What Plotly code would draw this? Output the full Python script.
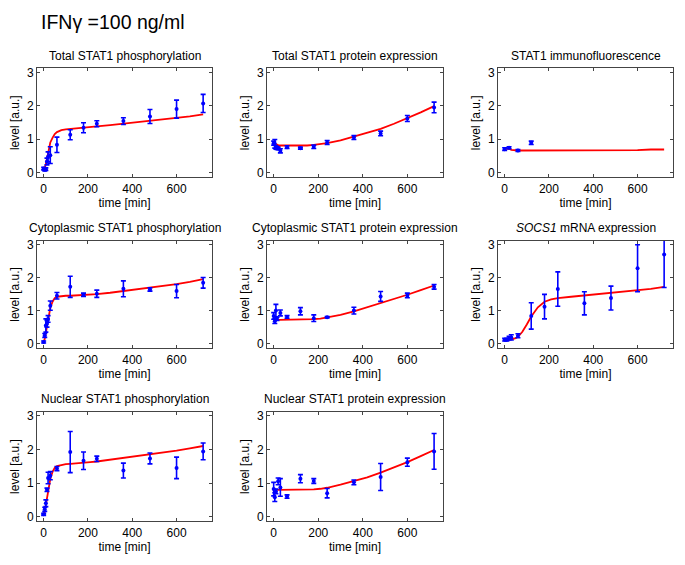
import plotly.graph_objects as go

# ---------------- data ----------------
model_t = [0, 5, 10, 15, 20, 25, 30, 40, 50, 60, 80, 100, 120, 150, 180, 210, 240,
           300, 360, 420, 480, 540, 600, 660, 720]

# Panel 1: Total STAT1 phosphorylation
p1_t = [0, 5, 10, 15, 20, 30, 60, 120, 180, 240, 360, 480, 600, 720]
p1_y = [0.12, 0.08, 0.1, 0.33, 0.47, 0.52, 0.83, 1.13, 1.34, 1.46, 1.54, 1.68, 1.9, 2.07]
p1_e = [0.04, 0.03, 0.04, 0.1, 0.15, 0.25, 0.23, 0.15, 0.15, 0.09, 0.1, 0.21, 0.27, 0.27]
p1_m = [0.12, 0.15, 0.25, 0.42, 0.6, 0.78, 0.9, 1.04, 1.15, 1.21, 1.27, 1.29, 1.3, 1.32,
        1.34, 1.36, 1.38, 1.42, 1.46, 1.5, 1.54, 1.58, 1.63, 1.68, 1.74]

# Panel 2: Total STAT1 protein expression
p2_t = [0, 5, 10, 15, 20, 30, 60, 120, 180, 240, 360, 480, 600, 720]
p2_y = [0.88, 0.86, 0.75, 0.73, 0.72, 0.65, 0.76, 0.73, 0.77, 0.9, 1.05, 1.17, 1.62, 1.95]
p2_e = [0.06, 0.13, 0.05, 0.04, 0.04, 0.06, 0.04, 0.03, 0.05, 0.06, 0.06, 0.07, 0.09, 0.16]
p2_m = [0.88, 0.86, 0.84, 0.83, 0.82, 0.81, 0.81, 0.8, 0.8, 0.8, 0.8, 0.8, 0.8, 0.81,
        0.83, 0.85, 0.88, 0.96, 1.07, 1.18, 1.31, 1.46, 1.62, 1.8, 1.99]

# Panel 3: STAT1 immunofluorescence
p3_t = [0, 20, 60, 120]
p3_y = [0.7, 0.74, 0.66, 0.89]
p3_e = [0.04, 0.03, 0.03, 0.05]
p3_m = [0.72, 0.72, 0.72, 0.72, 0.72, 0.7, 0.68, 0.67, 0.67, 0.66, 0.66, 0.66, 0.66, 0.66,
        0.66, 0.67, 0.67, 0.67, 0.67, 0.67, 0.67, 0.67, 0.67, 0.69, 0.69]

# Panel 4: Cytoplasmic STAT1 phosphorylation
p4_t = [0, 5, 10, 15, 20, 30, 60, 120, 180, 240, 360, 480, 600, 720]
p4_y = [0.05, 0.25, 0.55, 0.6, 0.75, 1.15, 1.45, 1.72, 1.48, 1.51, 1.66, 1.64, 1.59, 1.84]
p4_e = [0.03, 0.06, 0.2, 0.1, 0.1, 0.14, 0.1, 0.32, 0.05, 0.11, 0.24, 0.05, 0.2, 0.16]
p4_m = [0.05, 0.15, 0.33, 0.55, 0.75, 0.93, 1.08, 1.27, 1.38, 1.42, 1.44, 1.45, 1.45, 1.46,
        1.47, 1.48, 1.5, 1.54, 1.59, 1.64, 1.69, 1.74, 1.8, 1.87, 1.95]

# Panel 5: Cytoplasmic STAT1 protein expression
p5_t = [0, 5, 10, 15, 30, 60, 120, 180, 240, 360, 480, 600, 720]
p5_y = [0.84, 0.68, 1.0, 0.75, 0.93, 0.81, 0.98, 0.77, 0.8, 1.0, 1.43, 1.46, 1.72]
p5_e = [0.1, 0.07, 0.19, 0.05, 0.09, 0.04, 0.11, 0.1, 0.02, 0.1, 0.15, 0.07, 0.07]
p5_m = [0.74, 0.73, 0.72, 0.72, 0.72, 0.72, 0.72, 0.72, 0.72, 0.72, 0.72, 0.72, 0.72, 0.73,
        0.74, 0.76, 0.79, 0.87, 0.98, 1.1, 1.23, 1.36, 1.48, 1.62, 1.76]

# Panel 6: SOCS1 mRNA expression
p6_t = [0, 10, 20, 30, 60, 120, 180, 240, 360, 480, 600, 720]
p6_y = [0.12, 0.12, 0.17, 0.19, 0.24, 0.84, 1.12, 1.65, 1.22, 1.38, 2.28, 2.7]
p6_e = [0.04, 0.04, 0.05, 0.08, 0.06, 0.4, 0.37, 0.52, 0.35, 0.36, 0.71, 1.0]
p6_m = [0.1, 0.1, 0.11, 0.11, 0.12, 0.12, 0.13, 0.14, 0.17, 0.21, 0.36, 0.58, 0.82, 1.1,
        1.27, 1.34, 1.38, 1.42, 1.46, 1.5, 1.54, 1.57, 1.61, 1.66, 1.72]

# Panel 7: Nuclear STAT1 phosphorylation
p7_t = [0, 5, 10, 15, 20, 30, 60, 120, 180, 240, 360, 480, 600, 720]
p7_y = [0.07, 0.22, 0.4, 0.8, 1.15, 1.22, 1.43, 1.92, 1.66, 1.72, 1.37, 1.73, 1.45, 1.94]
p7_e = [0.03, 0.06, 0.1, 0.05, 0.17, 0.12, 0.06, 0.61, 0.26, 0.08, 0.22, 0.16, 0.32, 0.25]
p7_m = [0.05, 0.15, 0.35, 0.58, 0.8, 0.98, 1.12, 1.33, 1.45, 1.5, 1.54, 1.56, 1.57, 1.58,
        1.6, 1.62, 1.64, 1.69, 1.74, 1.79, 1.84, 1.9, 1.96, 2.03, 2.1]

# Panel 8: Nuclear STAT1 protein expression
p8_t = [0, 5, 10, 20, 30, 60, 120, 180, 240, 360, 480, 600, 720]
p8_y = [0.82, 0.58, 0.75, 1.05, 0.87, 0.6, 1.13, 1.06, 0.7, 1.02, 1.18, 1.62, 1.94]
p8_e = [0.2, 0.13, 0.07, 0.1, 0.26, 0.05, 0.12, 0.07, 0.14, 0.07, 0.4, 0.12, 0.53]
p8_m = [0.82, 0.81, 0.8, 0.8, 0.8, 0.8, 0.8, 0.8, 0.8, 0.8, 0.8, 0.8, 0.8, 0.8,
        0.81, 0.83, 0.86, 0.95, 1.05, 1.17, 1.31, 1.46, 1.62, 1.8, 1.98]

titles = ["Total STAT1 phosphorylation", "Total STAT1 protein expression",
          "STAT1 immunofluorescence", "Cytoplasmic STAT1 phosphorylation",
          "Cytoplasmic STAT1 protein expression", "<i>SOCS1</i> mRNA expression",
          "Nuclear STAT1 phosphorylation", "Nuclear STAT1 protein expression"]
x_ticks = [0, 200, 400, 600]
y_ticks = [0, 1, 2, 3]

panels = [(p1_t, p1_y, p1_e, p1_m), (p2_t, p2_y, p2_e, p2_m), (p3_t, p3_y, p3_e, p3_m),
          (p4_t, p4_y, p4_e, p4_m), (p5_t, p5_y, p5_e, p5_m), (p6_t, p6_y, p6_e, p6_m),
          (p7_t, p7_y, p7_e, p7_m), (p8_t, p8_y, p8_e, p8_m)]

# ---------------- layout ----------------
OFF = 8  # default page body margin
W, H = 685 - OFF, 565 - OFF
col_px = [(37, 212), (267, 443), (498, 673)]
row_px = [(66, 176), (240, 349), (413, 524)]
FONT = "Liberation Sans, Arial, sans-serif"


def px_x(v):
    return (v - OFF) / W


def px_y(v):
    return 1 - (v - OFF) / H


fig = go.Figure()
layout = dict(width=W, height=H, margin=dict(l=0, r=0, t=0, b=0),
              plot_bgcolor="white", paper_bgcolor="white", showlegend=False,
              font=dict(family=FONT, size=12, color="black"))
annotations = []

for i, (t, y, e, m) in enumerate(panels):
    r, c = divmod(i, 3)
    k = i + 1
    xa = "x" if k == 1 else f"x{k}"
    ya = "y" if k == 1 else f"y{k}"
    fig.add_trace(go.Scatter(x=model_t, y=m, mode="lines", xaxis=xa, yaxis=ya,
                             line=dict(color="#ff0000", width=1.8)))
    fig.add_trace(go.Scatter(x=t, y=y, mode="markers", xaxis=xa, yaxis=ya,
                             marker=dict(color="#0000ff", size=4),
                             error_y=dict(type="data", array=e, color="#0000ff",
                                          thickness=1.6, width=2.5)))
    x0, x1 = col_px[c]
    y0, y1 = row_px[r]
    axcommon = dict(showline=True, linecolor="#444444", linewidth=1, mirror="allticks",
                    ticks="inside", ticklen=3, tickcolor="#444444", showgrid=False,
                    zeroline=False, tickfont=dict(size=12, color="black"))
    layout["xaxis" if k == 1 else f"xaxis{k}"] = dict(
        domain=[px_x(x0), px_x(x1)], anchor=ya, range=[-30, 760], tickvals=x_ticks,
        title=dict(text="time [min]", font=dict(size=12), standoff=2), **axcommon)
    layout["yaxis" if k == 1 else f"yaxis{k}"] = dict(
        domain=[px_y(y1), px_y(y0)], anchor=xa, range=[-0.14, 3.12], tickvals=y_ticks,
        title=dict(text="level [a.u.]", font=dict(size=12), standoff=4), **axcommon)
    annotations.append(dict(text=titles[i], x=px_x((x0 + x1) / 2), y=px_y(y0 - 13),
                            xref="paper", yref="paper", showarrow=False,
                            xanchor="center", yanchor="middle", font=dict(size=12)))

annotations.append(dict(text="IFNγ =100 ng/ml", x=px_x(39), y=px_y(19), xref="paper",
                        yref="paper", showarrow=False, xanchor="left", yanchor="middle",
                        font=dict(size=19.5)))
layout["annotations"] = annotations
fig.update_layout(**layout)
fig.write_html("out.html")
